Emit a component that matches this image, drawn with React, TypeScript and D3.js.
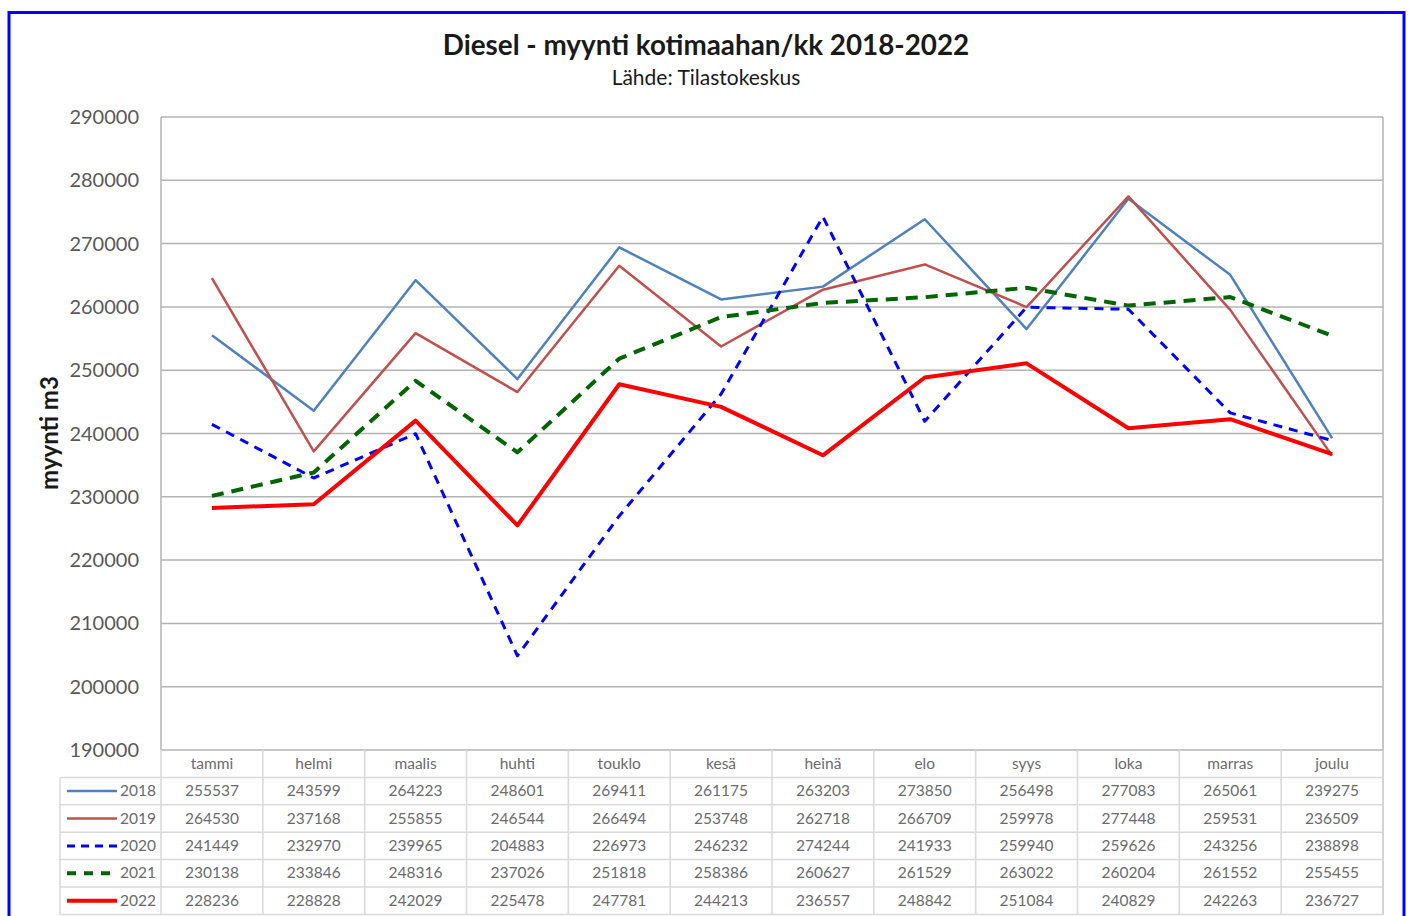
import React from 'react';
import * as d3 from 'd3';

const months = ['tammi', 'helmi', 'maalis', 'huhti', 'touklo', 'kesä', 'heinä', 'elo', 'syys', 'loka', 'marras', 'joulu'];
const years = ['2018', '2019', '2020', '2021', '2022'];
const v2018 = [255537, 243599, 264223, 248601, 269411, 261175, 263203, 273850, 256498, 277083, 265061, 239275];
const v2019 = [264530, 237168, 255855, 246544, 266494, 253748, 262718, 266709, 259978, 277448, 259531, 236509];
const v2020 = [241449, 232970, 239965, 204883, 226973, 246232, 274244, 241933, 259940, 259626, 243256, 238898];
const v2021 = [230138, 233846, 248316, 237026, 251818, 258386, 260627, 261529, 263022, 260204, 261552, 255455];
const v2022 = [228236, 228828, 242029, 225478, 247781, 244213, 236557, 248842, 251084, 240829, 242263, 236727];
const yTicks = [190000, 200000, 210000, 220000, 230000, 240000, 250000, 260000, 270000, 280000, 290000];

const styles = [
  { color: '#4f81bd', width: 2.5, dash: null },
  { color: '#c0504d', width: 2.5, dash: null },
  { color: '#0000ff', width: 3, dash: '9 7' },
  { color: '#006400', width: 4, dash: '12 8' },
  { color: '#ff0000', width: 4, dash: null },
];

const FONT = 'Lato, "Open Sans", sans-serif';

export default function App() {
  const series = [v2018, v2019, v2020, v2021, v2022];
  const W = 1409;
  const H = 916;
  const left = 161;
  const right = 1383;
  const top = 117;
  const bottom = 750;
  const tableLeft = 60;
  const rowH = 27.4;

  const x = d3.scaleBand().domain(months).range([left, right]);
  const y = d3.scaleLinear().domain([190000, 290000]).range([bottom, top]);
  const line = d3.line<number>()
    .x((_, i) => (x(months[i]) as number) + x.bandwidth() / 2)
    .y((d) => y(d));

  const gridColor = '#b3b3b3';
  const tableColor = '#d9d9d9';
  const textColor = '#595959';
  const tableText = '#6b6b6b';

  return (
    <svg width={W} height={H} style={{ position: 'absolute', left: 0, top: 0 }} fontFamily={FONT}>
      <rect x={0} y={0} width={W} height={H} fill="#fff" />
      <rect x={9} y={12.5} width={1395} height={920} fill="none" stroke="#0000ff" strokeWidth={3} />

      <text x={706} y={55} textAnchor="middle" fontSize={27.8} fontWeight="bold" fill="#1a1a1a">
        Diesel - myynti kotimaahan/kk 2018-2022
      </text>
      <text x={706} y={85} textAnchor="middle" fontSize={21} fill="#1a1a1a">
        Lähde: Tilastokeskus
      </text>

      {yTicks.map((t) => (
        <g key={t}>
          <line x1={left} x2={right} y1={y(t)} y2={y(t)} stroke={gridColor} strokeWidth={1.5} />
          <text x={139} y={y(t) + 7} textAnchor="end" fontSize={20} fill={textColor}>{t}</text>
        </g>
      ))}
      <line x1={left} x2={left} y1={top} y2={bottom} stroke={gridColor} strokeWidth={1.5} />
      <line x1={right} x2={right} y1={top} y2={bottom + rowH * 6} stroke={gridColor} strokeWidth={1.5} />

      <text transform={`translate(58,433) rotate(-90)`} textAnchor="middle" fontSize={24} fontWeight="bold" fill="#1a1a1a">
        myynti m3
      </text>

      {/* data table */}
      {months.map((m) => (
        <line key={m} x1={(x(m) as number) + x.bandwidth()} x2={(x(m) as number) + x.bandwidth()} y1={bottom} y2={bottom + rowH * 6} stroke={tableColor} strokeWidth={1.5} />
      ))}
      <line x1={left} x2={left} y1={bottom} y2={bottom + rowH * 6} stroke={tableColor} strokeWidth={1.5} />
      <line x1={tableLeft} x2={tableLeft} y1={bottom + rowH} y2={bottom + rowH * 6} stroke={tableColor} strokeWidth={1.5} />
      {d3.range(1, 7).map((r) => (
        <line key={r} x1={tableLeft} x2={right} y1={bottom + rowH * r} y2={bottom + rowH * r} stroke={tableColor} strokeWidth={1.5} />
      ))}
      {months.map((m) => (
        <text key={m} x={(x(m) as number) + x.bandwidth() / 2} y={bottom + rowH / 2 + 5} textAnchor="middle" fontSize={15.5} fill={tableText}>{m}</text>
      ))}
      {series.map((vals, s) => (
        <g key={years[s]}>
          <line x1={67} x2={117} y1={bottom + rowH * (s + 1.5)} y2={bottom + rowH * (s + 1.5)} stroke={styles[s].color} strokeWidth={styles[s].width} strokeDasharray={styles[s].dash ? (s === 2 ? '8 6' : '9 8') : undefined} />
          <text x={156} y={bottom + rowH * (s + 1.5) + 5} textAnchor="end" fontSize={15.5} fill={tableText}>{years[s]}</text>
          {vals.map((v, i) => (
            <text key={i} x={(x(months[i]) as number) + x.bandwidth() / 2} y={bottom + rowH * (s + 1.5) + 5} textAnchor="middle" fontSize={15.5} fill={tableText}>{v}</text>
          ))}
        </g>
      ))}

      {series.map((vals, s) => (
        <path key={years[s]} d={line(vals) as string} fill="none" stroke={styles[s].color} strokeWidth={styles[s].width} strokeDasharray={styles[s].dash ?? undefined} strokeLinejoin="round" />
      ))}
    </svg>
  );
}
